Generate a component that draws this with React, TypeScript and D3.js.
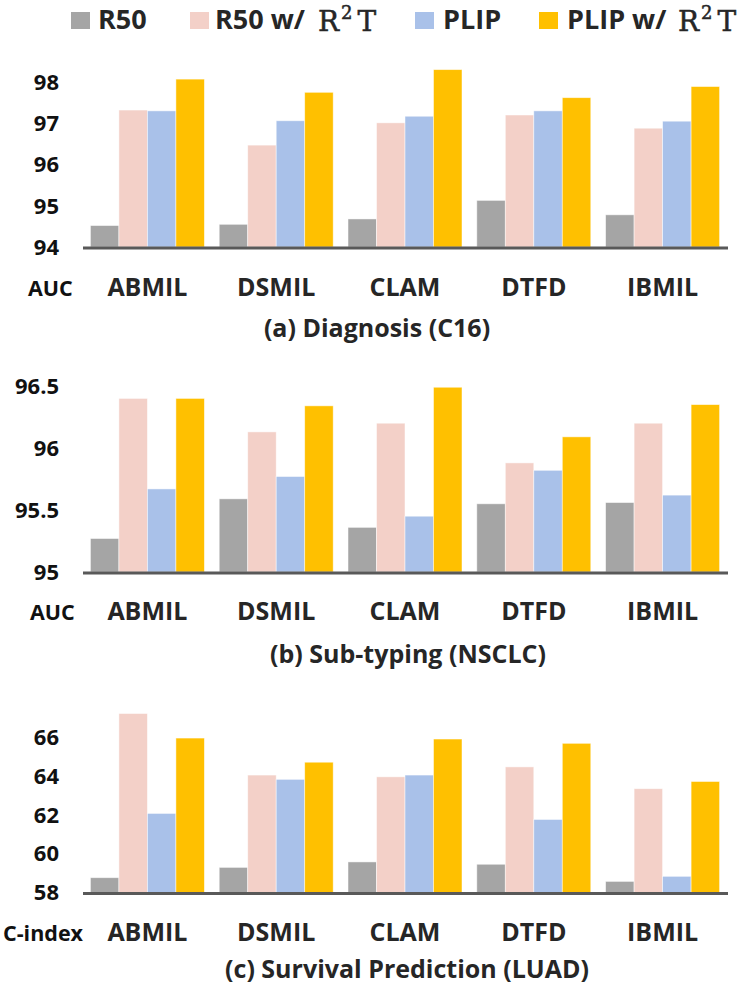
import React from "react";
import * as d3 from "d3";

// methods on the x axis
const methods = ["ABMIL", "DSMIL", "CLAM", "DTFD", "IBMIL"];
const seriesKeys = ["r50", "r50r2t", "plip", "plipr2t"];
const seriesColors = ["#A5A5A5", "#F3D0C8", "#A9C1E9", "#FFC000"];

// (a) Diagnosis (C16), AUC
const diagR50 = [94.52, 94.55, 94.68, 95.13, 94.78];
const diagR50R2T = [97.32, 96.47, 97.01, 97.2, 96.88];
const diagPLIP = [97.3, 97.06, 97.17, 97.3, 97.05];
const diagPLIPR2T = [98.07, 97.75, 98.3, 97.62, 97.89];
const diagTicks = [94, 95, 96, 97, 98];

// (b) Sub-typing (NSCLC), AUC
const subR50 = [95.27, 95.59, 95.36, 95.55, 95.56];
const subR50R2T = [96.4, 96.13, 96.2, 95.88, 96.2];
const subPLIP = [95.67, 95.77, 95.45, 95.82, 95.62];
const subPLIPR2T = [96.4, 96.34, 96.49, 96.09, 96.35];
const subTicks = [95, 95.5, 96, 96.5];

// (c) Survival Prediction (LUAD), C-index
const survR50 = [58.76, 59.29, 59.57, 59.45, 58.57];
const survR50R2T = [67.19, 64.03, 63.94, 64.45, 63.33];
const survPLIP = [62.06, 63.81, 64.03, 61.75, 58.83];
const survPLIPR2T = [65.93, 64.69, 65.88, 65.66, 63.7];
const survTicks = [58, 60, 62, 64, 66];

const FONT = "'Open Sans', 'Noto Sans', sans-serif";
const TEXT = "#262626";

type PanelProps = {
  series: number[][];
  ticks: number[];
  yRange: [number, number];
  metric: string;
  metricX: number;
  labelY: number;
  title: string;
  titleX: number;
  titleY: number;
};

function Panel({ series, ticks, yRange, metric, metricX, labelY, title, titleX, titleY }: PanelProps) {
  const x = d3
    .scaleBand<string>()
    .domain(methods)
    .range([83, 727])
    .paddingInner(0.115)
    .paddingOuter(0.0575);
  const xs = d3.scaleBand<string>().domain(seriesKeys).range([0, x.bandwidth()]);
  const y = d3
    .scaleLinear()
    .domain([ticks[0], ticks[ticks.length - 1]])
    .range(yRange);
  const base = y(ticks[0]);

  return (
    <g>
      {series.map((vals, si) =>
        vals.map((v, i) => (
          <rect
            key={`${si}-${i}`}
            x={(x(methods[i]) ?? 0) + (xs(seriesKeys[si]) ?? 0)}
            y={y(v)}
            width={xs.bandwidth()}
            height={base - y(v)}
            fill={seriesColors[si]}
            stroke="#ffffff"
            strokeOpacity={0.6}
            strokeWidth={0.8}
          />
        ))
      )}
      <line x1={83} x2={728} y1={base + 1} y2={base + 1} stroke="#595959" strokeWidth={3} />
      {ticks.map((t) => (
        <text
          key={t}
          x={59}
          y={y(t)}
          dy="0.36em"
          textAnchor="end"
          fontFamily={FONT}
          fontWeight={700}
          fontSize={22}
          fill="#111"
        >
          {t}
        </text>
      ))}
      {methods.map((m) => (
        <text
          key={m}
          x={(x(m) ?? 0) + x.bandwidth() / 2}
          y={labelY}
          textAnchor="middle"
          fontFamily={FONT}
          fontWeight={700}
          fontSize={25}
          fill={TEXT}
        >
          {m}
        </text>
      ))}
      <text x={metricX} y={labelY} fontFamily={FONT} fontWeight={700} fontSize={21.5} fill="#111">
        {metric}
      </text>
      <text
        x={titleX}
        y={titleY}
        textAnchor="middle"
        fontFamily={FONT}
        fontWeight={700}
        fontSize={25}
        fill={TEXT}
      >
        {title}
      </text>
    </g>
  );
}

function R2T({ x }: { x: number }) {
  return (
    <text x={x} y={31} fontFamily="'DejaVu Serif', serif" fontSize={28} fill={TEXT} stroke={TEXT} strokeWidth={0.5}>
      R
      <tspan dx={2} dy={-12} fontSize={18}>
        2
      </tspan>
      <tspan dx={5} dy={12}>
        T
      </tspan>
    </text>
  );
}

function Legend() {
  const items = [
    { sq: 71, tx: 98, label: "R50", r2t: null },
    { sq: 190, tx: 215, label: "R50 w/", r2t: 318 },
    { sq: 415, tx: 443, label: "PLIP", r2t: null },
    { sq: 539, tx: 567, label: "PLIP w/", r2t: 678 },
  ];
  return (
    <g>
      {items.map((it, i) => (
        <g key={it.label}>
          <rect x={it.sq} y={12} width={19} height={17} fill={seriesColors[i]} />
          <text x={it.tx} y={29} fontFamily={FONT} fontWeight={700} fontSize={27} fill={TEXT}>
            {it.label}
          </text>
          {it.r2t !== null && <R2T x={it.r2t} />}
        </g>
      ))}
    </g>
  );
}

export default function App() {
  return (
    <svg
      width={747}
      height={991}
      style={{ position: "absolute", left: 0, top: 0, background: "#fff" }}
    >
      <Legend />
      <Panel
        series={[diagR50, diagR50R2T, diagPLIP, diagPLIPR2T]}
        ticks={diagTicks}
        yRange={[247, 82]}
        metric="AUC"
        metricX={28}
        labelY={296}
        title="(a) Diagnosis (C16)"
        titleX={377}
        titleY={337}
      />
      <Panel
        series={[subR50, subR50R2T, subPLIP, subPLIPR2T]}
        ticks={subTicks}
        yRange={[572, 386]}
        metric="AUC"
        metricX={30}
        labelY={620}
        title="(b) Sub-typing (NSCLC)"
        titleX={408}
        titleY={663}
      />
      <Panel
        series={[survR50, survR50R2T, survPLIP, survPLIPR2T]}
        ticks={survTicks}
        yRange={[892.5, 736.7]}
        metric="C-index"
        metricX={3}
        labelY={941}
        title="(c) Survival Prediction (LUAD)"
        titleX={407}
        titleY={978}
      />
    </svg>
  );
}
